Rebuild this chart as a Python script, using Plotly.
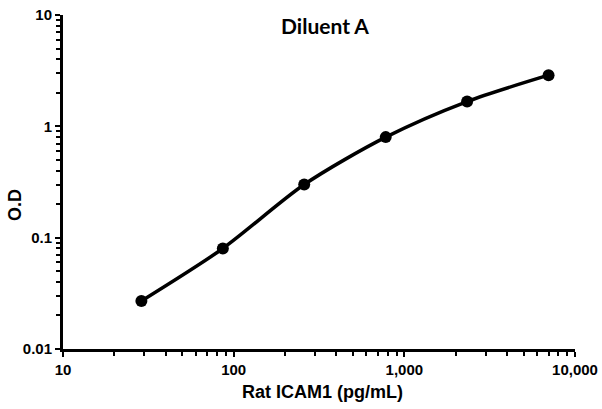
import plotly.graph_objects as go

# Data
conc = [28.8, 86.4, 259, 778, 2333, 7000]          # Rat ICAM1 (pg/mL)
od = [0.027, 0.080, 0.30, 0.80, 1.67, 2.88]        # O.D

x_tickvals = [10, 100, 1000, 10000]
x_ticktext = ["10", "100", "1,000", "10,000"]
y_tickvals = [0.01, 0.1, 1, 10]
y_ticktext = ["0.01", "0.1", "1", "10"]

title_text = "Diluent A"
x_title = "Rat ICAM1 (pg/mL)"
y_title = "O.D"

x_minor = [m * d for d in (10, 100, 1000) for m in range(2, 10)]
y_minor = [m * d for d in (0.01, 0.1, 1) for m in range(2, 10)]

fig = go.Figure()
fig.add_trace(go.Scatter(
    x=conc, y=od, mode="lines+markers",
    line=dict(color="black", width=3.5, shape="spline", smoothing=0.8),
    marker=dict(color="black", size=12),
    showlegend=False,
))

tick_font = dict(family="Liberation Sans, Arial", size=15, color="black", weight="bold")

common = dict(
    ticks="outside", ticklen=5, tickwidth=2, tickcolor="black",
    showline=True, linecolor="black", linewidth=3,
    showgrid=False, zeroline=False, automargin=False,
    tickfont=tick_font, tickmode="array",
)

fig.update_layout(
    width=602, height=409,
    paper_bgcolor="white", plot_bgcolor="white",
    margin=dict(l=63, r=27, t=15, b=60),
    title=dict(text=title_text, x=325/602, xanchor="center",
               y=1 - 27/409, yanchor="middle",
               font=dict(family="Lato, Open Sans", size=21, color="black", weight="bold")),
    xaxis=dict(
        type="log", range=[1, 4],
        tickvals=x_tickvals, ticktext=x_ticktext,
        minor=dict(ticks="outside", ticklen=4, tickwidth=2, tickcolor="black",
                   showgrid=False, tickmode="array", tickvals=x_minor),
        **common,
    ),
    yaxis=dict(
        type="log", range=[-2, 1],
        tickvals=y_tickvals, ticktext=y_ticktext,
        minor=dict(ticks="outside", ticklen=4, tickwidth=2, tickcolor="black",
                   showgrid=False, tickmode="array", tickvals=y_minor),
        **common,
    ),
    annotations=[
        dict(text=x_title, xref="paper", yref="paper",
             x=(322-63)/512, y=-(392-349)/334, xanchor="center", yanchor="middle",
             showarrow=False,
             font=dict(family="Liberation Sans, Arial", size=18, color="black", weight="bold")),
        dict(text=y_title, xref="paper", yref="paper",
             x=-(63-15)/512, y=(349-205)/334, xanchor="center", yanchor="middle",
             textangle=-90, showarrow=False,
             font=dict(family="Liberation Sans, Arial", size=18, color="black", weight="bold")),
    ],
)

fig.write_html("out.html", config={"displayModeBar": False},
               post_script="document.body.style.margin='0';")
